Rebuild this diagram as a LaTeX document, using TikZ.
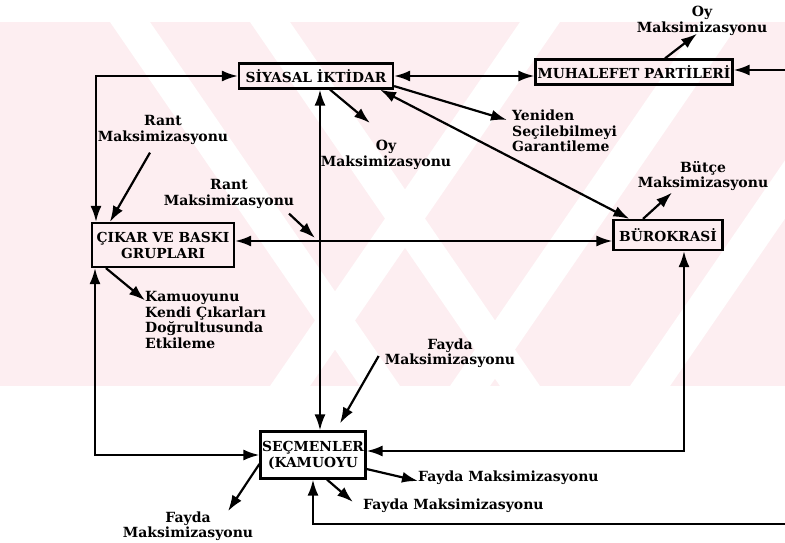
\documentclass[tikz,border=0pt]{standalone}
\usepackage{fontspec}
\setmainfont{DejaVu Serif}
\usetikzlibrary{arrows.meta, positioning}
\definecolor{wmpink}{RGB}{253,238,241}

\tikzset{
  box/.style={draw, line width=2.2pt, inner sep=1pt, align=center, font=\bfseries\fontsize{13.8}{16}\selectfont},
  lbl/.style={align=center, inner sep=0pt, font=\bfseries\fontsize{14}{15.5}\selectfont},
  arr/.style={line width=2.2pt, -{Latex[length=16pt,width=11pt]}},
  darr/.style={line width=2.2pt, {Latex[length=16pt,width=11pt]}-{Latex[length=16pt,width=11pt]}}
}

\begin{document}
\begin{tikzpicture}[x=1pt,y=-1pt]
\useasboundingbox (0,0) rectangle (785,543);
% watermark
\begin{scope}
\clip (0,22) rectangle (785,386);
\fill[wmpink] (0,22) rectangle (785,386);
\foreach \s in {110,250}
  \fill[white] (\s,22) -- ++(40,0) -- ++(250,364) -- ++(-40,0) -- cycle;
\foreach \s in {520,700,880}
  \fill[white] (\s,22) -- ++(40,0) -- ++(-250,364) -- ++(-40,0) -- cycle;
\end{scope}

\node[box, minimum width=154pt, minimum height=25pt] (siyasal) at (316,76) {SİYASAL İKTİDAR};
\node[box, minimum width=197pt, minimum height=25pt] (muhalefet) at (634,72) {MUHALEFET PARTİLERİ};
\node[box, minimum width=142pt, minimum height=44pt] (cikar) at (163,245) {ÇIKAR VE BASKI\\GRUPLARI};
\node[box, minimum width=109pt, minimum height=30pt] (burokrasi) at (668,235) {BÜROKRASİ};
\node[box, minimum width=105pt, minimum height=47pt] (secmen) at (313,455) {SEÇMENLER\\(KAMUOYU};

\node[lbl] (oyA) at (386,155) {Oy\\Maksimizasyonu};
\node[lbl] (oyB) at (702,21) {Oy\\Maksimizasyonu};
\node[lbl] (rantA) at (163,130) {Rant\\Maksimizasyonu};
\node[lbl] (rantB) at (229,194) {Rant\\Maksimizasyonu};
\node[lbl, align=left, anchor=west] (yeniden) at (512,131) {Yeniden\\Seçilebilmeyi\\Garantileme};
\node[lbl] (butce) at (703,176) {Bütçe\\Maksimizasyonu};
\node[lbl, align=left, anchor=west] (kamuoyu) at (145,320) {Kamuoyunu\\Kendi Çıkarları\\Doğrultusunda\\Etkileme};
\node[lbl] (faydaA) at (450,353) {Fayda\\Maksimizasyonu};
\node[lbl, anchor=west] (faydaB) at (418,478) {Fayda Maksimizasyonu};
\node[lbl, anchor=west] (faydaC) at (363,506) {Fayda Maksimizasyonu};
\node[lbl] (faydaD) at (188,526) {Fayda\\Maksimizasyonu};

\coordinate (cornerNW) at (96,76);
\coordinate (cornerSW) at (95,455);
\coordinate (cornerSE) at (684,451);
\coordinate (cross) at (320,241);
\coordinate (edgeR) at (785,70);
\coordinate (edgeB) at (785,524);
\coordinate (oyTip) at (370,123);
\coordinate (yenTip) at (507,120);

% frame
\draw[darr] (cikar.north -| cornerNW) |- (siyasal.west);
\draw[darr] (cikar.south -| cornerSW) |- (secmen.west);
\draw[darr] (siyasal.south -| cross) -- (secmen.north -| cross);
\draw[darr] (cikar.east |- cross) -- (burokrasi.west |- cross);
\draw[darr] (siyasal.east) -- (siyasal.east -| muhalefet.west);
\draw[darr] (burokrasi.south -| cornerSE) |- (secmen.east |- cornerSE);
\draw[darr] ([xshift=64pt]siyasal.south) -- ([xshift=17pt]burokrasi.north west);
\draw[arr] (edgeR) -- (muhalefet.east |- edgeR);
\draw[arr] (edgeB) -| (secmen.south);

% goals
\draw[arr] ([xshift=14pt]siyasal.south) -- (oyTip);
\draw[arr] ([yshift=3.5pt]siyasal.south east) -- (yenTip);
\draw[arr] ([xshift=31pt]muhalefet.north) -- ([xshift=-5pt,yshift=2pt]oyB.south);
\draw[arr] ([xshift=-13pt,yshift=-8pt]rantA.south) -- ([xshift=19pt]cikar.north west);
\draw[arr] ([xshift=60pt,yshift=-5pt]rantB.south) -- ([xshift=-5pt,yshift=3pt]cross);
\draw[arr] ([xshift=15pt]cikar.south west) -- ([yshift=-9pt]kamuoyu.north west);
\draw[arr] ([xshift=-25pt]burokrasi.north) -- ([xshift=-31pt,yshift=-1.5pt]butce.south);
\draw[arr] ([xshift=-6pt,yshift=-3pt]faydaA.west) -- ([xshift=27pt,yshift=7pt]secmen.north);
\draw[arr] ([yshift=-14pt]secmen.east) -- ([yshift=-3pt]faydaB.west);
\draw[arr] ([xshift=14pt]secmen.south) -- ([xshift=-10pt,yshift=4pt]faydaC.west);
\draw[arr] ([yshift=-9pt]secmen.west) -- ([xshift=40pt]faydaD.north);
\end{tikzpicture}
\end{document}
